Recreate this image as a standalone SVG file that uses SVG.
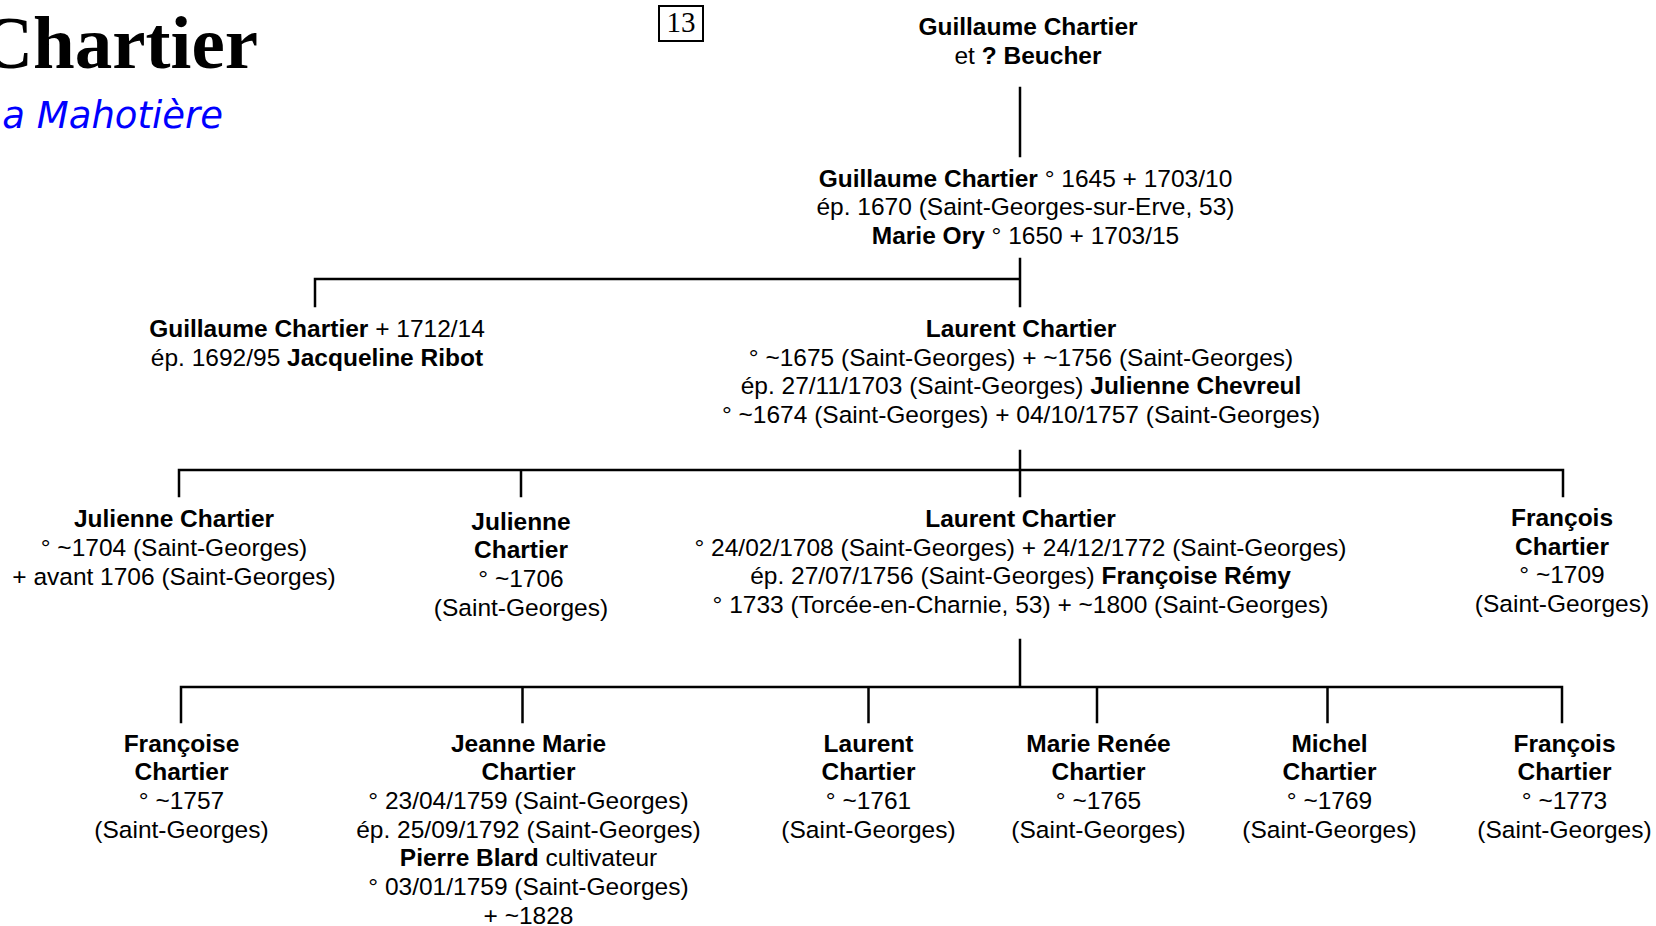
<svg xmlns="http://www.w3.org/2000/svg" width="1656" height="926" viewBox="0 0 1656 926">
<style>
  text { font-family: "Liberation Sans", Arial, sans-serif; font-size: 24.5px; fill: #000; text-anchor: middle; }
  .b { font-weight: bold; }
  .title { font-family: "Liberation Serif", "Times New Roman", serif; font-size: 75px; font-weight: bold; text-anchor: end; }
  .sub { font-family: "DejaVu Sans", Verdana, sans-serif; font-size: 37px; font-style: italic; fill: #0000FF; text-anchor: end; }
  .num { font-family: "Liberation Serif", "Times New Roman", serif; font-size: 29px; }
  .ln { stroke: #000; stroke-width: 2.5; fill: none; stroke-linecap: square; }
</style>
<rect x="0" y="0" width="1656" height="926" fill="#fff"/>

<g id="header">
  <text class="title" x="258" y="68">Chartier</text>
  <text class="sub" x="223" y="128">a Mahotière</text>
  <rect x="659" y="6" width="44" height="35" fill="none" stroke="#000" stroke-width="2"/>
  <text class="num" x="681" y="32">13</text>
</g>

<g id="connectors">
  <path class="ln" d="M1020 88 V156"/>
  <path class="ln" d="M1020 259 V306 M315 279 H1020 M315 279 V306"/>
  <path class="ln" d="M1020 451 V496 M179 470 H1563 M179 470 V496 M521 470 V496 M1563 470 V496"/>
  <path class="ln" d="M1020 640 V687 M181 687 H1562 M181 687 V722 M522.5 687 V722 M868.5 687 V722 M1097 687 V722 M1327.5 687 V722 M1562 687 V722"/>
</g>

<g id="n-guillaume-sr">
  <text x="1028" y="35" class="b">Guillaume Chartier</text>
  <text x="1028" y="63.5">et <tspan class="b">? Beucher</tspan></text>
</g>

<g id="n-guillaume-1645">
  <text x="1025.5" y="186.5"><tspan class="b">Guillaume Chartier</tspan> ° 1645 + 1703/10</text>
  <text x="1025.5" y="215.3">ép. 1670 (Saint-Georges-sur-Erve, 53)</text>
  <text x="1025.5" y="244"><tspan class="b">Marie Ory</tspan> ° 1650 + 1703/15</text>
</g>

<g id="n-guillaume-1712">
  <text x="317" y="337"><tspan class="b">Guillaume Chartier</tspan> + 1712/14</text>
  <text x="317" y="366">ép. 1692/95 <tspan class="b">Jacqueline Ribot</tspan></text>
</g>

<g id="n-laurent-1675">
  <text x="1021" y="337" class="b">Laurent Chartier</text>
  <text x="1021" y="365.7">° ~1675 (Saint-Georges) + ~1756 (Saint-Georges)</text>
  <text x="1021" y="394.4">ép. 27/11/1703 (Saint-Georges) <tspan class="b">Julienne Chevreul</tspan></text>
  <text x="1021" y="423">° ~1674 (Saint-Georges) + 04/10/1757 (Saint-Georges)</text>
</g>

<g id="n-julienne-1704">
  <text x="174" y="527" class="b">Julienne Chartier</text>
  <text x="174" y="556">° ~1704 (Saint-Georges)</text>
  <text x="174" y="585">+ avant 1706 (Saint-Georges)</text>
</g>

<g id="n-julienne-1706">
  <text x="521" y="529.5" class="b">Julienne</text>
  <text x="521" y="558.2" class="b">Chartier</text>
  <text x="521" y="587">° ~1706</text>
  <text x="521" y="615.6">(Saint-Georges)</text>
</g>

<g id="n-laurent-1708">
  <text x="1020.5" y="527" class="b">Laurent Chartier</text>
  <text x="1020.5" y="555.7">° 24/02/1708 (Saint-Georges) + 24/12/1772 (Saint-Georges)</text>
  <text x="1020.5" y="584.4">ép. 27/07/1756 (Saint-Georges) <tspan class="b">Françoise Rémy</tspan></text>
  <text x="1020.5" y="613">° 1733 (Torcée-en-Charnie, 53) + ~1800 (Saint-Georges)</text>
</g>

<g id="n-francois-1709">
  <text x="1562" y="526" class="b">François</text>
  <text x="1562" y="554.7" class="b">Chartier</text>
  <text x="1562" y="583.4">° ~1709</text>
  <text x="1562" y="612">(Saint-Georges)</text>
</g>

<g id="n-francoise-1757">
  <text x="181.5" y="751.5" class="b">Françoise</text>
  <text x="181.5" y="780.2" class="b">Chartier</text>
  <text x="181.5" y="808.9">° ~1757</text>
  <text x="181.5" y="837.6">(Saint-Georges)</text>
</g>

<g id="n-jeanne-marie-1759">
  <text x="528.5" y="751.5" class="b">Jeanne Marie</text>
  <text x="528.5" y="780.2" class="b">Chartier</text>
  <text x="528.5" y="808.9">° 23/04/1759 (Saint-Georges)</text>
  <text x="528.5" y="837.6">ép. 25/09/1792 (Saint-Georges)</text>
  <text x="528.5" y="866.3"><tspan class="b">Pierre Blard</tspan> cultivateur</text>
  <text x="528.5" y="895">° 03/01/1759 (Saint-Georges)</text>
  <text x="528.5" y="923.5">+ ~1828</text>
</g>

<g id="n-laurent-1761">
  <text x="868.5" y="751.5" class="b">Laurent</text>
  <text x="868.5" y="780.2" class="b">Chartier</text>
  <text x="868.5" y="808.9">° ~1761</text>
  <text x="868.5" y="837.6">(Saint-Georges)</text>
</g>

<g id="n-marie-renee-1765">
  <text x="1098.5" y="751.5" class="b">Marie Renée</text>
  <text x="1098.5" y="780.2" class="b">Chartier</text>
  <text x="1098.5" y="808.9">° ~1765</text>
  <text x="1098.5" y="837.6">(Saint-Georges)</text>
</g>

<g id="n-michel-1769">
  <text x="1329.5" y="751.5" class="b">Michel</text>
  <text x="1329.5" y="780.2" class="b">Chartier</text>
  <text x="1329.5" y="808.9">° ~1769</text>
  <text x="1329.5" y="837.6">(Saint-Georges)</text>
</g>

<g id="n-francois-1773">
  <text x="1564.5" y="751.5" class="b">François</text>
  <text x="1564.5" y="780.2" class="b">Chartier</text>
  <text x="1564.5" y="808.9">° ~1773</text>
  <text x="1564.5" y="837.6">(Saint-Georges)</text>
</g>
</svg>
